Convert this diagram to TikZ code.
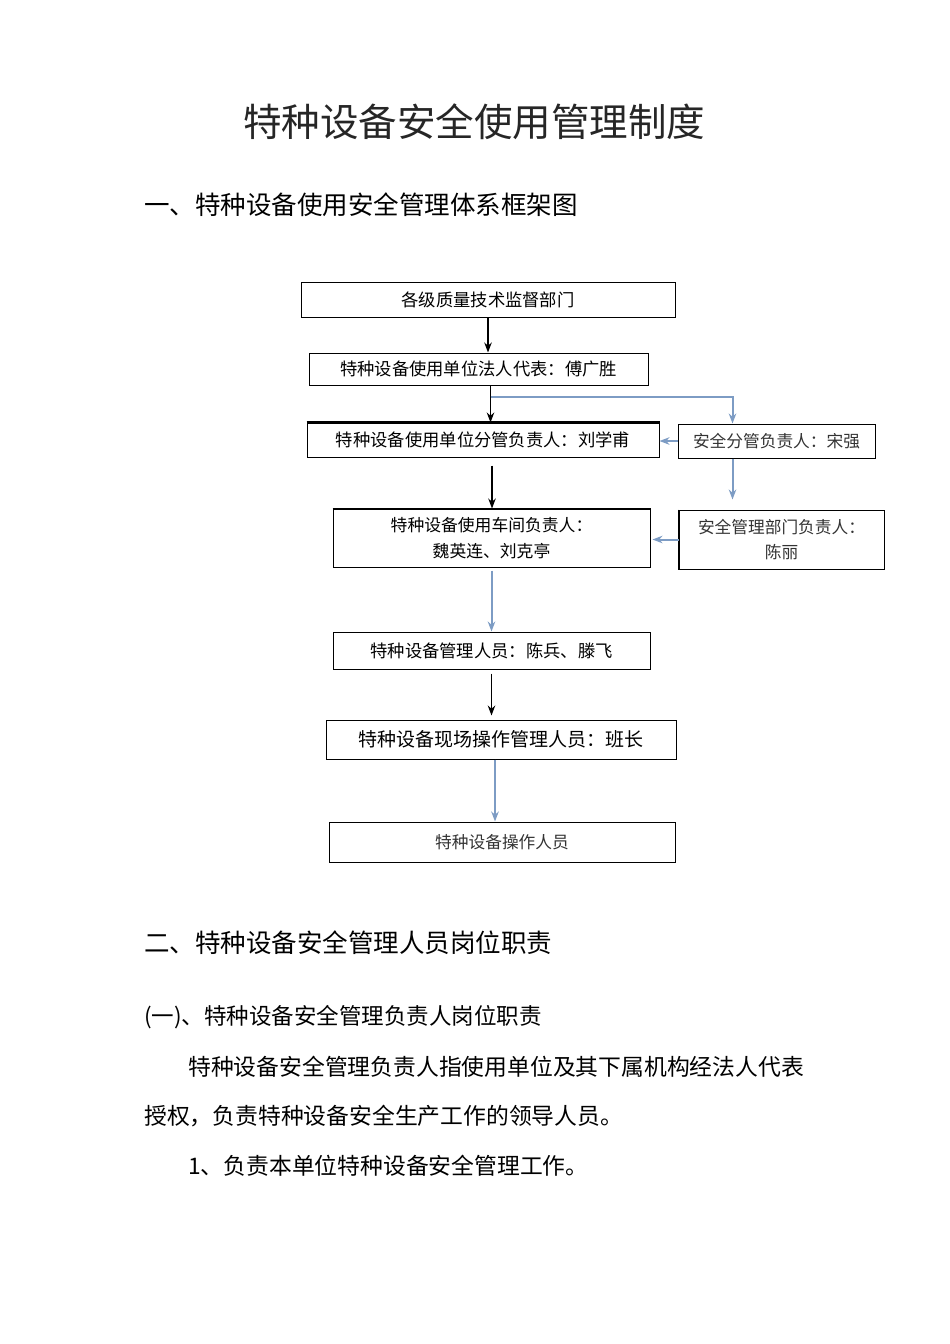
\documentclass[tikz,border=0pt]{standalone}
\usepackage{fontspec}
\setmainfont{Noto Sans CJK SC}
\usetikzlibrary{arrows.meta,calc,positioning}
\definecolor{linkblue}{RGB}{125,156,196}

\begin{document}
\begin{tikzpicture}[>={Stealth[length=10pt,width=7.5pt]}, x=1pt, y=-1pt]
\newcommand{\fs}[1]{\fontsize{#1}{#1}\selectfont}
\newcommand{\orgbox}[1][]{\node [obox, #1]}
\tikzset{
  obox/.style={draw, line width=1pt, inner sep=0pt, align=center, font=\fs{17.3}},
  blk/.style={->, line width=1.3pt},
  blu/.style={->, draw=linkblue, line width=2pt},
  txt/.style={anchor=west, inner sep=0pt},
}
\useasboundingbox (0,0) rectangle (950,1344);

\node [font=\fs{38.5}, text=black!85] (title) at (474,122) {特种设备安全使用管理制度};
\node [txt, font=\fs{25.5}] (h1) at (144,205) {一、特种设备使用安全管理体系框架图};

\orgbox [minimum width=374pt, minimum height=35pt] (P1) at (488,300) {各级质量技术监督部门};
\orgbox [minimum width=339pt, minimum height=32pt] (P2) at (478.5,369) {特种设备使用单位法人代表：傅广胜};
\orgbox [minimum width=352pt, minimum height=34pt] (P3) at (483,440) {特种设备使用单位分管负责人：刘学甫};
\orgbox [minimum width=197pt, minimum height=34pt, text=black!80, font=\fs{16.7}] (S1) at (776.5,441) {安全分管负责人：宋强};
\orgbox [minimum width=317pt, minimum height=58pt, font=\fs{16.8}] (P4) at (491.5,538) {特种设备使用车间负责人：\\[8.5pt]魏英连、刘克亭};
\orgbox [minimum width=205pt, minimum height=59pt, text=black!80, font=\fs{16.7}] (S2) at (781.5,539.5) {安全管理部门负责人：\\[8.5pt]陈丽};
\orgbox [minimum width=317pt, minimum height=37pt] (P5) at (491.5,650.5) {特种设备管理人员：陈兵、滕飞};
\orgbox [minimum width=350pt, minimum height=39pt, font=\fs{19}] (P6) at (501,739.5) {特种设备现场操作管理人员：班长};
\orgbox [minimum width=346pt, minimum height=40pt, text=black!80, font=\fs{16.7}] (P7) at (502,842) {特种设备操作人员};

% heavier edges
\draw [line width=2.2pt] (P3.north west) -- (P3.north east);
\draw [line width=1.8pt] (P4.north west) -- (P4.north east);
\draw [line width=1.8pt] (S2.north west) -- (S2.south west);

% black chain
\draw [blk] (P1.south) -- (P1.south |- P2.north);
\coordinate (b2) at ($(P2.south)+(12,0)$);
\draw [blk] (b2) -- (b2 |- P3.north);
\coordinate (b3) at ($(P3.south)+(9,0)$);
\draw [blk, shorten <=8pt] (b3) -- (b3 |- P4.north);
\draw [blk, shorten <=4pt, shorten >=4pt] (P5.south) -- (P5.south |- P6.north);

% blue links
\coordinate (br) at ($(b2)+(0,11)$);
\coordinate (s1a) at ($(S1.north west)+(55,0)$);
\coordinate (s1b) at ($(S1.south west)+(55,0)$);
\draw [blu] (br) -| (s1a);
\draw [blu] (S1.west) -- (S1.west -| P3.east);
\draw [blu, shorten >=10pt] (s1b) -- (s1b |- S2.north);
\draw [blu, shorten >=2pt] (S2.west) -- (S2.west -| P4.east);
\draw [blu, shorten <=3pt] (P4.south) -- (P5.north);
\coordinate (b6) at ($(P6.south)+(-6,0)$);
\draw [blu] (b6) -- (b6 |- P7.north);

\node [txt, font=\fs{25.5}] (h2) at (144,943) {二、特种设备安全管理人员岗位职责};
\node [txt, font=\fs{22.5}] (h21) at (144,1017) {(一)、特种设备安全管理负责人岗位职责};
\node [txt, font=\fs{22.8}] (p1) at (188,1067) {特种设备安全管理负责人指使用单位及其下属机构经法人代表};
\node [txt, font=\fs{22.8}] (p2) at (144,1116) {授权，负责特种设备安全生产工作的领导人员。};
\node [txt, font=\fs{22.8}] (p3) at (188,1166) {1、负责本单位特种设备安全管理工作。};
\end{tikzpicture}
\end{document}
